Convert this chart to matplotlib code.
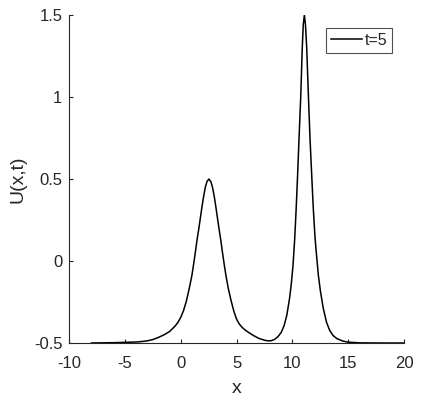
import matplotlib
matplotlib.use("Agg")
import matplotlib.pyplot as plt

plt.rcParams['font.family'] = ['Liberation Sans', 'DejaVu Sans']

# Values (t=5)
x_vals = [-8, -7, -6, -5, -4, -3.5, -3, -2.5, -2, -1.5, -1, -0.5, -0.25, 0, 0.25,
          0.5, 0.75, 1.0, 1.15, 1.3, 1.45, 1.6, 1.75, 1.9, 2.05, 2.2, 2.35, 2.52,
          2.7, 2.85, 3.0, 3.15, 3.3, 3.45, 3.6, 3.75, 3.9, 4.05, 4.25, 4.5, 4.75,
          5.0, 5.25, 5.5, 5.75, 6.0, 6.5, 7.0, 7.5, 7.8, 8.1, 8.4, 8.7, 9.0, 9.25,
          9.5, 9.75, 9.9, 10.05, 10.2, 10.33, 10.45, 10.6, 10.75, 10.87, 10.97,
          11.07, 11.17, 11.28, 11.43, 11.58, 11.73, 11.87, 12.0, 12.1, 12.32, 12.5,
          12.76, 13.06, 13.35, 13.65, 14.0, 14.5, 15, 16, 18, 20]
u_vals = [-0.5, -0.499, -0.498, -0.496, -0.494, -0.491, -0.487, -0.479, -0.466,
          -0.45, -0.43, -0.396, -0.374, -0.343, -0.302, -0.245, -0.17, -0.087,
          -0.02, 0.05, 0.125, 0.19, 0.26, 0.33, 0.395, 0.45, 0.485, 0.50, 0.483,
          0.447, 0.393, 0.327, 0.256, 0.186, 0.12, 0.045, -0.025, -0.09, -0.165,
          -0.24, -0.305, -0.355, -0.385, -0.405, -0.42, -0.432, -0.454, -0.472,
          -0.483, -0.487, -0.486, -0.478, -0.462, -0.435, -0.395, -0.33, -0.225,
          -0.14, -0.03, 0.13, 0.31, 0.50, 0.76, 1.01, 1.28, 1.44, 1.50, 1.44, 1.30,
          1.01, 0.74, 0.52, 0.32, 0.17, 0.08, -0.085, -0.18, -0.288, -0.375, -0.425,
          -0.455, -0.474, -0.488, -0.495, -0.499, -0.5, -0.5]

x_ticks = [-10, -5, 0, 5, 10, 15, 20]
x_tick_labels = ['-10', '-5', '0', '5', '10', '15', '20']
y_ticks = [-0.5, 0, 0.5, 1, 1.5]
y_tick_labels = ['-0.5', '0', '0.5', '1', '1.5']
legend_label = 't=5'

ink = '#262626'

fig = plt.figure(figsize=(4.24, 4.0), dpi=100)
ax = fig.add_axes([0.163, 0.1425, 0.790, 0.820])
ax.plot(x_vals, u_vals, color='black', lw=1.1, label=legend_label,
        solid_joinstyle='round')

ax.set_xlim(-10, 20)
ax.set_ylim(-0.5, 1.5)
ax.set_xticks(x_ticks)
ax.set_xticklabels(x_tick_labels)
ax.set_yticks(y_ticks)
ax.set_yticklabels(y_tick_labels)

for s in ['top', 'right']:
    ax.spines[s].set_visible(False)
for s in ['left', 'bottom']:
    ax.spines[s].set_color(ink)
    ax.spines[s].set_linewidth(0.8)

ax.tick_params(direction='in', length=3, width=0.8, color=ink,
               labelsize=12, labelcolor=ink)
ax.tick_params(axis='x', pad=9.5)
ax.tick_params(axis='y', pad=4.9)

ax.set_xlabel('x', fontsize=14, color=ink, labelpad=6.5)
ax.set_ylabel('U(x,t)', fontsize=14, color=ink, labelpad=5)

leg = ax.legend(loc='upper right', bbox_to_anchor=(0.964, 0.960), borderaxespad=0,
                fontsize=11.5, frameon=True, fancybox=False, handlelength=1.95,
                handletextpad=0.15, borderpad=0.3)
leg.get_frame().set_edgecolor(ink)
leg.get_frame().set_linewidth(0.8)
for t in leg.get_texts():
    t.set_color(ink)

fig.savefig('out.png', dpi=100)
